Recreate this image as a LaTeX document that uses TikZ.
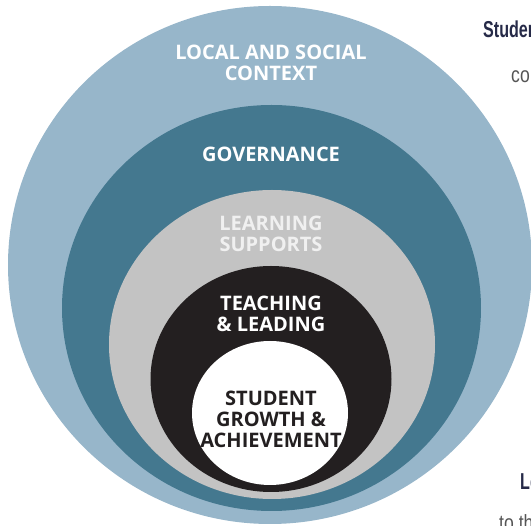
\documentclass[tikz,border=0pt]{standalone}
\usepackage{fontspec}
\setmainfont{Open Sans}
\newfontfamily\narrowfont[FakeStretch=0.8]{Liberation Sans}
\newfontfamily\headfont[FakeStretch=0.7]{Liberation Sans}
\definecolor{outerblue}{HTML}{97B6CA}
\definecolor{govblue}{HTML}{44788F}
\definecolor{suppgray}{HTML}{C3C3C3}
\definecolor{teachblack}{HTML}{231F20}
\definecolor{navytext}{HTML}{262A48}
\definecolor{bodygray}{HTML}{555555}
\tikzset{
  ringlabel/.style={align=center, inner sep=0pt, font=\bfseries\fontsize{20}{21}\selectfont},
  sidehead/.style={anchor=base west, inner sep=0pt, text=navytext, font=\headfont\bfseries\fontsize{23}{25}\selectfont},
  sidebody/.style={anchor=base west, inner sep=0pt, text=bodygray, font=\narrowfont\fontsize{22}{24}\selectfont}
}
\begin{document}
\begin{tikzpicture}[x=1pt,y=-1pt]
\useasboundingbox (0,0) rectangle (531,526);
\begin{scope}
\clip (0,0) rectangle (531,526);
\fill[outerblue] (270,265) ellipse [x radius=262pt, y radius=259pt];
\fill[govblue] (271.5,308) ellipse [x radius=209.5pt, y radius=203pt];
\fill[suppgray] (272,344.5) ellipse [x radius=163pt, y radius=154.5pt];
\fill[teachblack] (271,379) ellipse [x radius=120.5pt, y radius=113pt];
\fill[white] (270,413) ellipse [x radius=78pt, y radius=72pt];
\node[sidehead] (stu) at (483,38) {Student};
\node[sidebody] (co) at (511,83) {co};
\node[sidehead] (le) at (520,490) {Le};
\node[sidebody] (toth) at (499,531) {to th};
\end{scope}
\node[ringlabel, text=white] (local) at (271,63) {LOCAL AND SOCIAL\\CONTEXT};
\node[ringlabel, text=white] (gov) at (271,154) {GOVERNANCE};
\node[ringlabel, text=white!94!black] (supp) at (271,234) {LEARNING\\SUPPORTS};
\node[ringlabel, text=white] (teach) at (271,314) {TEACHING\\\& LEADING};
\node[ringlabel, text=teachblack] (stud) at (271,419) {STUDENT\\GROWTH \&\\ACHIEVEMENT};
\end{tikzpicture}
\end{document}
